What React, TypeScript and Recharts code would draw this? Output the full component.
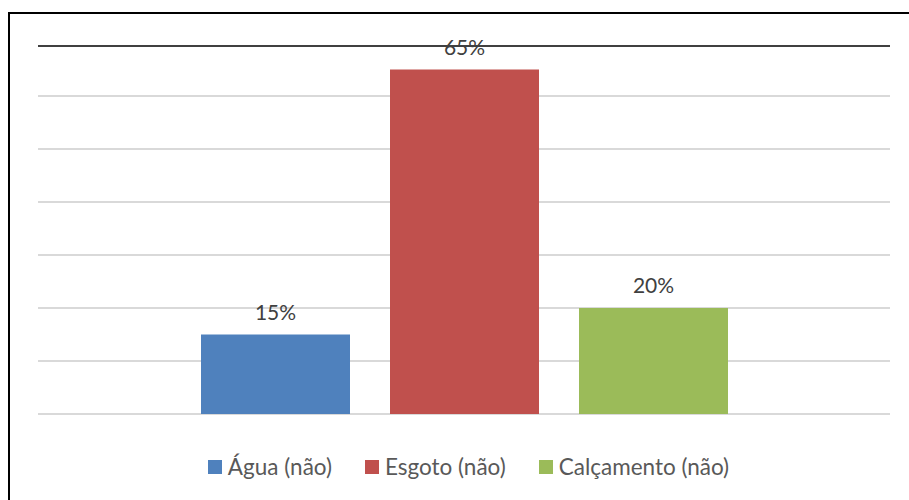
import React from 'react';
import { BarChart, Bar, XAxis, YAxis, CartesianGrid, ReferenceLine, LabelList, Legend } from 'recharts';

const categories = ['Total'];
const seriesKeys = ['agua', 'esgoto', 'calcamento'];
const seriesNames = ['Água (não)', 'Esgoto (não)', 'Calçamento (não)'];
const aguaValues = [15];
const esgotoValues = [65];
const calcamentoValues = [20];
const yGridTicks = [0, 10, 20, 30, 40, 50, 60];
const yMax = 70;
const colors = ['#4F81BD', '#C0504D', '#9BBB59'];

const data = categories.map((c, i) => ({
  name: c,
  agua: aguaValues[i],
  esgoto: esgotoValues[i],
  calcamento: calcamentoValues[i],
}));

const FONT = 'Lato, "Open Sans", sans-serif';

const renderLegend = (props: any) => {
  const payload = [...(props.payload || [])].sort(
    (a: any, b: any) => seriesNames.indexOf(a.value) - seriesNames.indexOf(b.value)
  );
  return (
    <div
      style={{
        height: 66,
        boxSizing: 'border-box',
        paddingTop: 43,
        paddingLeft: 28,
        display: 'flex',
        justifyContent: 'center',
        fontFamily: FONT,
      }}
    >
      {payload.map((entry: any, i: number) => (
        <div
          key={i}
          style={{
            display: 'flex',
            alignItems: 'center',
            marginRight: i < payload.length - 1 ? 33 : 0,
            height: 20,
          }}
        >
          <div style={{ width: 14, height: 14, background: entry.color }} />
          <span style={{ marginLeft: 6, fontSize: 22.5, lineHeight: '20px', color: '#595959', whiteSpace: 'nowrap' }}>
            {entry.value}
          </span>
        </div>
      ))}
    </div>
  );
};

const TopLine = (props: any) => {
  const { x1, x2, y1 } = props;
  return (
    <g>
      <line x1={x1 - 1} x2={x2 + 1} y1={y1} y2={y1} stroke="#ffffff" strokeWidth={3} />
      <line x1={x1} x2={x2} y1={y1 + 3} y2={y1 + 3} stroke="#404040" strokeWidth={2} />
    </g>
  );
};

export default function App() {
  return (
    <div style={{ position: 'fixed', left: 0, top: 0, width: 909, height: 500, overflow: 'hidden', background: '#fff', fontFamily: FONT }}>
      <div style={{ position: 'absolute', left: 8, top: 12, width: 960, height: 560, border: '2px solid #000' }} />
      <div style={{ position: 'absolute', left: 0, top: 0 }}>
        <BarChart width={909} height={500} data={data} margin={{ top: 43, right: 19, bottom: 20, left: 38 }} barSize={149} barGap={40}>
          <CartesianGrid horizontal vertical={false} stroke="#d9d9d9" strokeWidth={2} />
          <XAxis dataKey="name" hide />
          <YAxis hide domain={[0, yMax]} ticks={yGridTicks} />
          <ReferenceLine y={yMax} shape={TopLine} />
          <Legend verticalAlign="bottom" content={renderLegend} wrapperStyle={{ left: 0, width: 909 }} />
          {seriesKeys.map((k, i) => (
            <Bar key={k} dataKey={k} name={seriesNames[i]} fill={colors[i]} isAnimationActive={false}>
              <LabelList
                dataKey={k}
                position="top"
                offset={15}
                formatter={(v: any) => `${v}%`}
                style={{ fill: '#404040', fontSize: 21, fontFamily: FONT }}
              />
            </Bar>
          ))}
        </BarChart>
      </div>
    </div>
  );
}
